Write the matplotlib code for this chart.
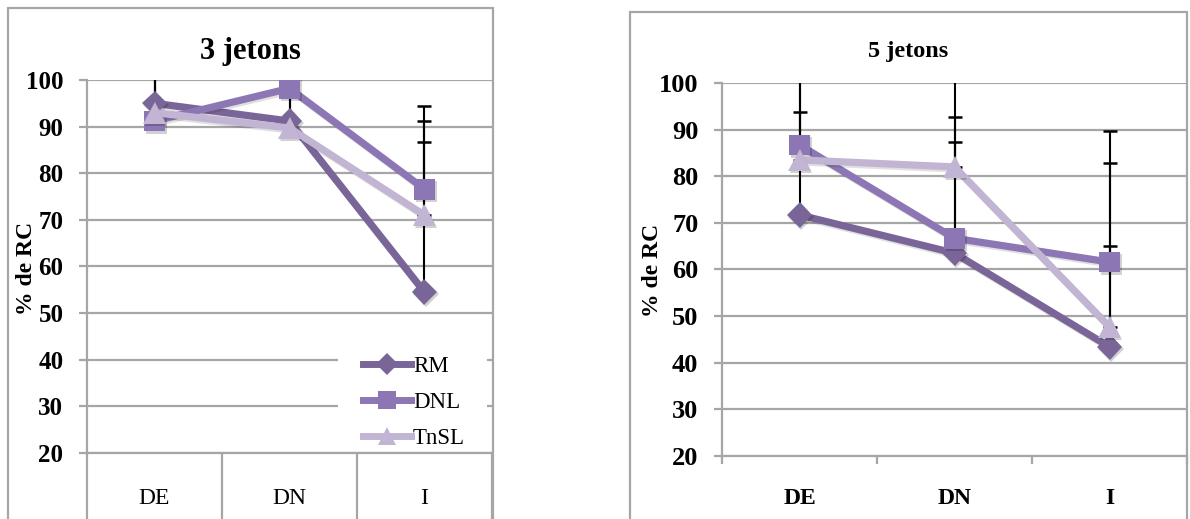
import matplotlib
matplotlib.use("Agg")
import matplotlib.pyplot as plt
from matplotlib import patheffects as pe
from matplotlib.patches import Rectangle
from matplotlib.lines import Line2D

categories = ["DE", "DN", "I"]
series_names = ["RM", "DNL", "TnSL"]

# 3 jetons: mean % of correct responses and upper error
rm_3 = [95.0, 91.2, 54.5]
dnl_3 = [91.2, 98.2, 76.6]
tnsl_3 = [93.0, 89.7, 71.0]
rm_3_err = [8.0, 6.0, 40.0]
dnl_3_err = [10.0, 5.0, 14.6]
tnsl_3_err = [9.0, 7.0, 15.7]

# 5 jetons
rm_5 = [71.7, 63.5, 43.4]
dnl_5 = [86.7, 66.7, 61.6]
tnsl_5 = [83.5, 82.0, 47.7]
rm_5_err = [32.0, 40.0, 46.3]
dnl_5_err = [7.1, 20.6, 21.2]
tnsl_5_err = [18.0, 10.7, 17.3]

yticks = list(range(20, 101, 10))

colors = ["#7A6598", "#8C76B3", "#C2B5D4"]
markers = ["D", "s", "^"]
msizes = [13, 15, 16]

FONT = "Liberation Serif"
GRID = "#A6A6A6"
W, H = 1190, 519

plt.rcParams["font.family"] = [FONT, "DejaVu Serif"]

fig = plt.figure(figsize=(W / 100, H / 100), dpi=100)


def fx(px):
    return px / W


def fy(py):
    return 1 - py / H


# panel frames
fig.patches.append(Rectangle((fx(8), -0.05), fx(493) - fx(8), fy(8) + 0.05,
                             transform=fig.transFigure, fill=False,
                             edgecolor=GRID, linewidth=1.6, zorder=0))
fig.patches.append(Rectangle((fx(630), -0.05), fx(1187) - fx(630), fy(12) + 0.05,
                             transform=fig.transFigure, fill=False,
                             edgecolor=GRID, linewidth=1.6, zorder=0))


def draw_panel(ax, values, errors, xtick_len, xlabel_pad, xlabel_weight,
               ytick_size):
    x = list(range(len(categories)))
    # upper error bars, behind the series
    for vals, errs in zip(values, errors):
        ax.errorbar(x, vals, yerr=[[0] * len(errs), errs], fmt="none",
                    ecolor="black", elinewidth=1.5, capsize=4.8,
                    capthick=1.8, zorder=2)
    for i, vals in enumerate(values):
        ax.plot(x, vals, color=colors[i], linewidth=5.2, solid_capstyle="round",
                zorder=3 + i,
                path_effects=[pe.SimpleLineShadow(offset=(1.2, -1.5),
                                                  shadow_color="k", alpha=0.12),
                              pe.Normal()])
        ax.plot(x, vals, linestyle="none", marker=markers[i],
                markersize=msizes[i], color=colors[i], markeredgewidth=0,
                zorder=3.5 + i,
                path_effects=[pe.SimplePatchShadow(offset=(1.2, -1.5),
                                                   shadow_rgbFace="k", alpha=0.18),
                              pe.Normal()])
    ax.set_xlim(-0.5, 2.5)
    ax.set_ylim(20, 100)
    ax.set_yticks(yticks)
    ax.set_yticklabels([str(v) for v in yticks], fontweight="bold",
                       fontsize=ytick_size)
    ax.yaxis.grid(True, color=GRID, linewidth=1.6)
    ax.set_axisbelow(True)
    for side in ("top", "right"):
        ax.spines[side].set_visible(False)
    for side in ("left", "bottom"):
        ax.spines[side].set_color(GRID)
        ax.spines[side].set_linewidth(1.6)
    ax.tick_params(axis="y", direction="out", length=6, width=1.6,
                   color=GRID, pad=11)
    ax.set_xticks(x)
    ax.set_xticklabels(categories, fontsize=17, fontweight=xlabel_weight)
    ax.set_xticks([-0.5, 0.5, 1.5, 2.5], minor=True)
    ax.tick_params(axis="x", which="major", length=0, pad=xlabel_pad)
    ax.tick_params(axis="x", which="minor", direction="out", length=xtick_len,
                   width=1.6, color=GRID)


ax1 = fig.add_axes([fx(87), fy(453), fx(492) - fx(87), fy(80) - fy(453)])
draw_panel(ax1, [rm_3, dnl_3, tnsl_3], [rm_3_err, dnl_3_err, tnsl_3_err],
           xtick_len=50, xlabel_pad=25, xlabel_weight="normal", ytick_size=18)

ax2 = fig.add_axes([fx(722), fy(456), fx(1187) - fx(722), fy(83) - fy(456)])
draw_panel(ax2, [rm_5, dnl_5, tnsl_5], [rm_5_err, dnl_5_err, tnsl_5_err],
           xtick_len=6, xlabel_pad=23, xlabel_weight="bold", ytick_size=19)

# white backing behind the legend of the first panel
bg = Rectangle((fx(338), fy(449)), fx(487) - fx(338), fy(347) - fy(449),
               transform=fig.transFigure, facecolor="white", edgecolor="none",
               zorder=1.5)
ax1.add_artist(bg)
bg.set_transform(fig.transFigure)

handles = [Line2D([0], [0], color=colors[i], linewidth=5, marker=markers[i],
                  markersize=msizes[i] * 0.85, markeredgewidth=0)
           for i in range(3)]
leg = ax1.legend(handles, series_names, loc="upper left",
                 bbox_to_anchor=(fx(358), fy(351)),
                 bbox_transform=fig.transFigure, frameon=False,
                 prop={"family": FONT, "size": 16.5},
                 handlelength=2.1, handletextpad=0.1,
                 labelspacing=0.66, borderpad=0.2, borderaxespad=0)
leg.set_zorder(10)

# titles and axis labels
fig.text(fx(250), fy(52), "3 jetons", ha="center", va="center",
         fontsize=22, fontweight="bold")
fig.text(fx(908), fy(52), "5 jetons", ha="center", va="center",
         fontsize=17.5, fontweight="bold")
fig.text(fx(27), fy(268), "% de RC", ha="center", va="center", rotation=90,
         fontsize=17, fontweight="bold")
fig.text(fx(652), fy(270), "% de RC", ha="center", va="center", rotation=90,
         fontsize=17, fontweight="bold")

fig.savefig("out.png", dpi=100, facecolor="white")
